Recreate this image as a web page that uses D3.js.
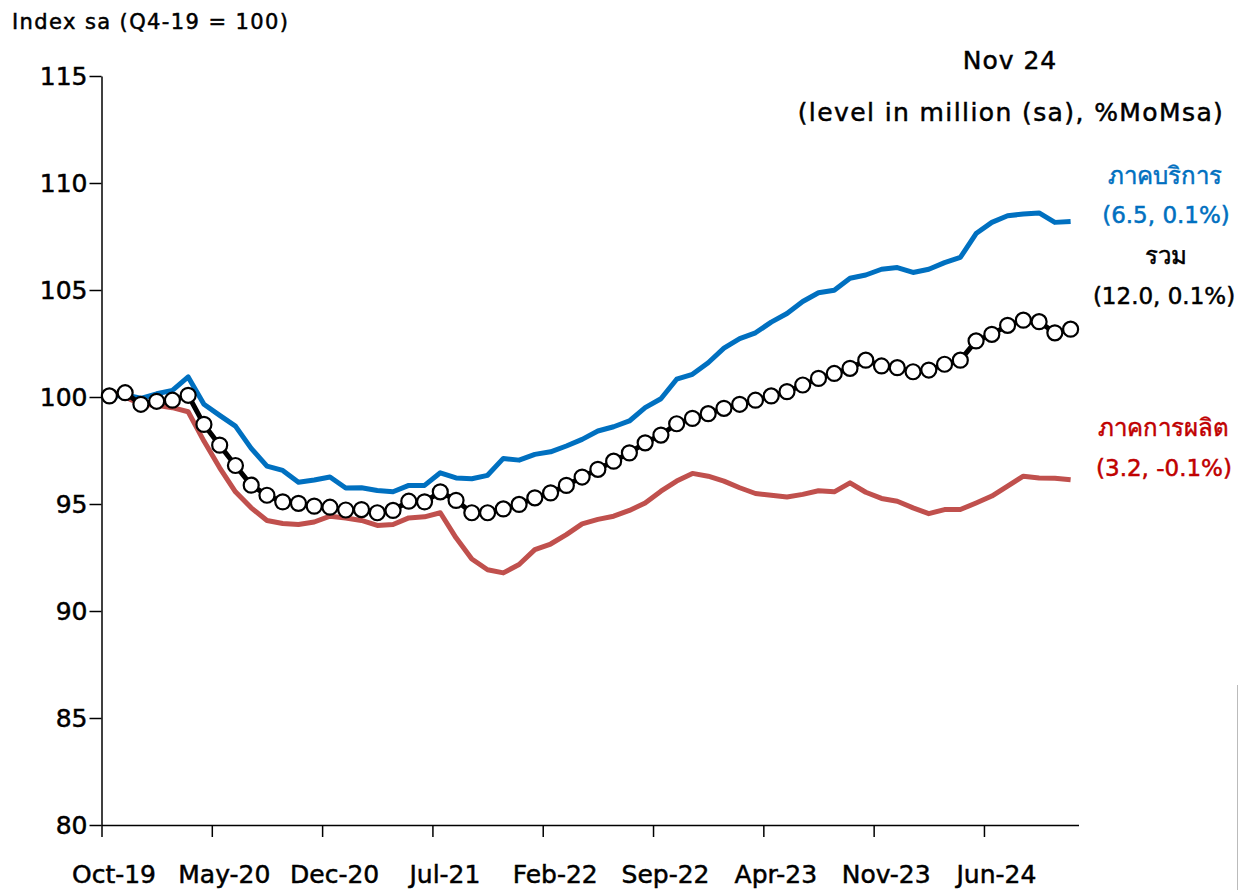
<!DOCTYPE html>
<html>
<head>
<meta charset="utf-8">
<script src="https://cdn.jsdelivr.net/npm/d3@7"></script>
<style>
  body { margin: 0; background: #fff; }
  svg { display: block; font-family: "DejaVu Sans", "Noto Sans", sans-serif; }
</style>
</head>
<body>
<div id="chart"></div>
<script>
var months = ["Oct-19","Nov-19","Dec-19","Jan-20","Feb-20","Mar-20","Apr-20","May-20","Jun-20","Jul-20","Aug-20","Sep-20",
  "Oct-20","Nov-20","Dec-20","Jan-21","Feb-21","Mar-21","Apr-21","May-21","Jun-21","Jul-21","Aug-21","Sep-21",
  "Oct-21","Nov-21","Dec-21","Jan-22","Feb-22","Mar-22","Apr-22","May-22","Jun-22","Jul-22","Aug-22","Sep-22",
  "Oct-22","Nov-22","Dec-22","Jan-23","Feb-23","Mar-23","Apr-23","May-23","Jun-23","Jul-23","Aug-23","Sep-23",
  "Oct-23","Nov-23","Dec-23","Jan-24","Feb-24","Mar-24","Apr-24","May-24","Jun-24","Jul-24","Aug-24","Sep-24",
  "Oct-24","Nov-24"];

// ภาคบริการ (services)
var services = [100.0,100.1,99.94,100.15,100.31,100.94,99.66,99.14,98.64,97.6,96.77,96.57,
  96.02,96.12,96.26,95.75,95.76,95.63,95.57,95.87,95.87,96.46,96.22,96.18,
  96.34,97.13,97.05,97.32,97.44,97.71,98.02,98.41,98.61,98.88,99.5,99.92,
  100.83,101.06,101.6,102.28,102.73,103.0,103.5,103.9,104.46,104.87,104.99,105.55,
  105.7,105.97,106.05,105.82,105.97,106.28,106.52,107.64,108.16,108.47,108.55,108.6,
  108.16,108.2];

// รวม (total)
var total = [100.05,100.2,99.66,99.8,99.85,100.08,98.72,97.75,96.8,95.88,95.41,95.1,
  95.03,94.9,94.85,94.72,94.74,94.59,94.7,95.13,95.1,95.57,95.17,94.59,
  94.59,94.77,94.98,95.29,95.52,95.87,96.26,96.62,97.0,97.39,97.86,98.22,
  98.75,99.0,99.22,99.47,99.66,99.85,100.05,100.25,100.56,100.87,101.1,101.34,
  101.72,101.45,101.37,101.18,101.26,101.53,101.72,102.62,102.93,103.35,103.59,103.52,
  103.0,103.17];

// ภาคการผลิต (manufacturing)
var manufacturing = [100.28,100.0,99.66,99.61,99.5,99.31,97.94,96.69,95.57,94.82,94.23,94.09,
  94.04,94.16,94.43,94.35,94.23,94.0,94.04,94.35,94.4,94.59,93.42,92.43,
  91.93,91.78,92.17,92.87,93.13,93.57,94.07,94.28,94.43,94.7,95.05,95.6,
  96.07,96.43,96.3,96.07,95.76,95.49,95.41,95.33,95.45,95.62,95.57,95.99,
  95.55,95.26,95.13,94.82,94.55,94.74,94.74,95.05,95.37,95.84,96.3,96.22,
  96.2,96.13];

var yTicks = [80, 85, 90, 95, 100, 105, 110, 115];
var xTickIdx = [0, 7, 14, 21, 28, 35, 42, 49, 56];

var W = 1239, H = 890;
var FONT = '"DejaVu Sans", "Noto Sans", sans-serif';
var svg = d3.select("#chart").append("svg")
  .attr("width", W).attr("height", H);

var x = d3.scaleLinear().domain([0, months.length]).range([101.5, 1078.5]);
var y = d3.scaleLinear().domain([80, 115]).range([825, 76]);

// y axis
var yAxis = svg.append("g")
  .attr("transform", "translate(101.5,0)")
  .call(d3.axisLeft(y).tickValues(yTicks).tickSize(12).tickPadding(2).tickSizeOuter(0))
  .attr("font-family", FONT);
yAxis.selectAll("text").style("font-size", "25px")
  .attr("fill", "#000").attr("stroke", "#000").attr("stroke-width", 0.5);
yAxis.selectAll("line, path").attr("stroke", "#000").attr("stroke-width", 1.5);

// x axis
var xAxis = svg.append("g")
  .attr("transform", "translate(0,825)")
  .call(d3.axisBottom(x).tickValues(xTickIdx).tickSize(12).tickSizeOuter(0)
    .tickFormat(function(i) { return months[i]; }))
  .attr("font-family", FONT);
xAxis.selectAll("text").style("font-size", "25px")
  .attr("fill", "#000").attr("stroke", "#000").attr("stroke-width", 0.5)
  .attr("y", 40).attr("x", 12);
xAxis.selectAll("line, path").attr("stroke", "#000").attr("stroke-width", 1.5);

var line = d3.line()
  .x(function(d, i) { return x(i + 0.5); })
  .y(function(d) { return y(d); });

svg.append("path").datum(manufacturing)
  .attr("d", line).attr("fill", "none")
  .attr("stroke", "#C0504D").attr("stroke-width", 5).attr("stroke-linejoin", "round");

svg.append("path").datum(services)
  .attr("d", line).attr("fill", "none")
  .attr("stroke", "#0070C0").attr("stroke-width", 5).attr("stroke-linejoin", "round");

svg.append("path").datum(total)
  .attr("d", line).attr("fill", "none")
  .attr("stroke", "#000").attr("stroke-width", 5).attr("stroke-linejoin", "round");

svg.selectAll("circle.tot").data(total).enter().append("circle")
  .attr("class", "tot")
  .attr("cx", function(d, i) { return x(i + 0.5); })
  .attr("cy", function(d) { return y(d); })
  .attr("r", 7.5)
  .attr("fill", "#fff").attr("stroke", "#000").attr("stroke-width", 2.2);

// texts
function label(txt, tx, ty, size, color, anchor, spacing) {
  svg.append("text").attr("x", tx).attr("y", ty)
    .attr("text-anchor", anchor || "middle")
    .style("font-size", size + "px")
    .style("letter-spacing", (spacing || 0) + "px")
    .attr("fill", color).attr("stroke", color).attr("stroke-width", 0.5)
    .text(txt);
}
label("Index sa (Q4-19 = 100)", 12, 29, 21, "#000", "start", 1.4);
label("Nov 24", 1010, 69, 25, "#000", "middle", 1);
label("(level in million (sa), %MoMsa)", 1011, 121, 25, "#000", "middle", 1.4);
label("ภาคบริการ", 1165, 184, 24, "#0070C0");
label("(6.5, 0.1%)", 1166, 223, 23, "#0070C0");
label("รวม", 1166, 264, 24, "#000");
label("(12.0, 0.1%)", 1164, 304, 23, "#000");
label("ภาคการผลิต", 1163, 436, 24, "#C00000");
label("(3.2, -0.1%)", 1164, 476, 23, "#C00000");

// thin frame edge at the right
svg.append("line").attr("x1", 1237.5).attr("x2", 1237.5).attr("y1", 685).attr("y2", 890)
  .attr("stroke", "#bbb").attr("stroke-width", 1);
</script>
</body>
</html>
